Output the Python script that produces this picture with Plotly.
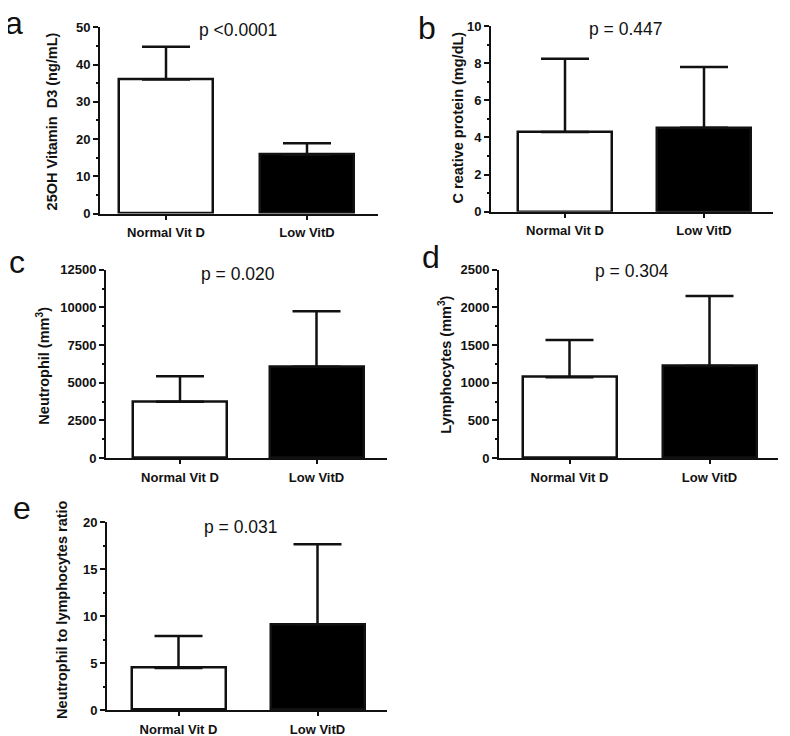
import plotly.graph_objects as go

W, H = 774, 737
OX, OY = 8, 15          # page offset of the figure within the browser window
SY = 736 / 752          # vertical scale between page pixels and the photographed picture

groups = ["Normal Vit D", "Low VitD"]

vitd_mean = [36.0, 15.8]
vitd_sd = [8.8, 3.1]

crp_mean = [4.29, 4.52]
crp_sd = [3.95, 3.27]

neut_mean = [3740, 6070]
neut_sd = [1690, 3680]

lymph_mean = [1072, 1223]
lymph_sd = [497, 931]

nlr_mean = [4.49, 9.15]
nlr_sd = [3.41, 8.54]

panels = [
    dict(letter="a", title="25OH Vitamin  D3 (ng/mL)", p="p <0.0001",
         mean=vitd_mean, sd=vitd_sd, ymax=50, dtick=10,
         yax_px=100, xend_px=378, ytop_px=27, y0_px=213, c0=166, c1=307,
         letter_xy=(14, 23), title_xy=(52, 121), p_xy=(238, 30)),
    dict(letter="b", title="C reative protein (mg/dL)", p="p = 0.447",
         mean=crp_mean, sd=crp_sd, ymax=10, dtick=2,
         yax_px=491, xend_px=773, ytop_px=25.7, y0_px=211.3, c0=565, c1=704,
         letter_xy=(427, 28), title_xy=(458, 117), p_xy=(625, 29)),
    dict(letter="c", title="Neutrophil (mm<sup>3</sup>)", p="p = 0.020",
         mean=neut_mean, sd=neut_sd, ymax=12500, dtick=2500,
         yax_px=106, xend_px=387, ytop_px=269.3, y0_px=457.3, c0=180, c1=316.5,
         letter_xy=(17, 261), title_xy=(43, 365), p_xy=(238, 273)),
    dict(letter="d", title="Lymphocytes (mm<sup>3</sup>)", p="p = 0.304",
         mean=lymph_mean, sd=lymph_sd, ymax=2500, dtick=500,
         yax_px=499, xend_px=778, ytop_px=269.3, y0_px=457.3, c0=569.5, c1=709.5,
         letter_xy=(431, 256), title_xy=(445, 364), p_xy=(632, 270)),
    dict(letter="e", title="Neutrophil to lymphocytes ratio", p="p = 0.031",
         mean=nlr_mean, sd=nlr_sd, ymax=20, dtick=5,
         yax_px=107, xend_px=387, ytop_px=521.7, y0_px=709, c0=178.5, c1=317.5,
         letter_xy=(22, 507), title_xy=(62, 609), p_xy=(240, 526)),
]


def fx(px):
    return (px - OX) / W


def fy(py):
    return 1 - (py / SY - OY) / H


INK = "#111111"
FONT = "Liberation Sans, Arial"
fig = go.Figure()
annotations = []
BAR_PX = 94

for i, pn in enumerate(panels):
    idx = "" if i == 0 else str(i + 1)
    s = pn["c1"] - pn["c0"]
    xr = [(pn["yax_px"] - pn["c0"]) / s, (pn["xend_px"] - pn["c0"]) / s]
    fig.add_trace(go.Bar(
        x=[0, 1], y=pn["mean"], width=BAR_PX / s,
        marker=dict(color=["white", "black"], line=dict(color=INK, width=2.5)),
        error_y=dict(type="data", array=pn["sd"], arrayminus=[0, 0], symmetric=False,
                     color=INK, thickness=2.5, width=24),
        xaxis="x" + idx, yaxis="y" + idx, showlegend=False,
    ))
    xd = [fx(pn["yax_px"]), fx(pn["xend_px"])]
    yd = [fy(pn["y0_px"]), fy(pn["ytop_px"])]
    fig.layout["xaxis" + idx] = dict(
        domain=xd, range=xr, anchor="y" + idx,
        tickvals=[0, 1], ticktext=groups, ticks="outside", ticklen=4, tickwidth=1.5,
        tickcolor=INK, showline=True, linecolor=INK, linewidth=2, showgrid=False,
        zeroline=False, fixedrange=True, ticklabelstandoff=2,
        tickfont=dict(family=FONT, size=13, color=INK, weight="bold"),
    )
    fig.layout["yaxis" + idx] = dict(
        domain=yd, range=[0, pn["ymax"]], anchor="x" + idx,
        tickmode="linear", tick0=0, dtick=pn["dtick"], tickformat="d",
        ticks="outside", ticklen=5, tickwidth=1.5, tickcolor=INK,
        minor=dict(ticks="outside", ticklen=2.5, tickwidth=1.5, tickcolor=INK,
                   dtick=pn["dtick"] / 2, showgrid=False),
        showline=True, linecolor=INK, linewidth=2, showgrid=False, zeroline=False,
        fixedrange=True,
        tickfont=dict(family=FONT, size=13, color=INK, weight="bold"),
    )
    lx, ly = pn["letter_xy"]
    annotations.append(dict(text=pn["letter"], x=fx(lx), y=fy(ly), xref="paper", yref="paper",
                            xanchor="center", yanchor="middle", showarrow=False,
                            font=dict(family=FONT, size=32, color=INK)))
    tx, ty = pn["title_xy"]
    annotations.append(dict(text=pn["title"], x=fx(tx), y=fy(ty), xref="paper", yref="paper",
                            xanchor="center", yanchor="middle", showarrow=False, textangle=-90,
                            font=dict(family=FONT, size=14.5, color=INK, weight="bold")))
    px_, py_ = pn["p_xy"]
    annotations.append(dict(text=pn["p"], x=fx(px_), y=fy(py_), xref="paper", yref="paper",
                            xanchor="center", yanchor="middle", showarrow=False,
                            font=dict(family=FONT, size=17.5, color=INK)))

fig.update_layout(
    width=W, height=H, margin=dict(l=0, r=0, t=0, b=0),
    paper_bgcolor="white", plot_bgcolor="white",
    annotations=annotations, bargap=0,
)

fig.write_html("out.html")
